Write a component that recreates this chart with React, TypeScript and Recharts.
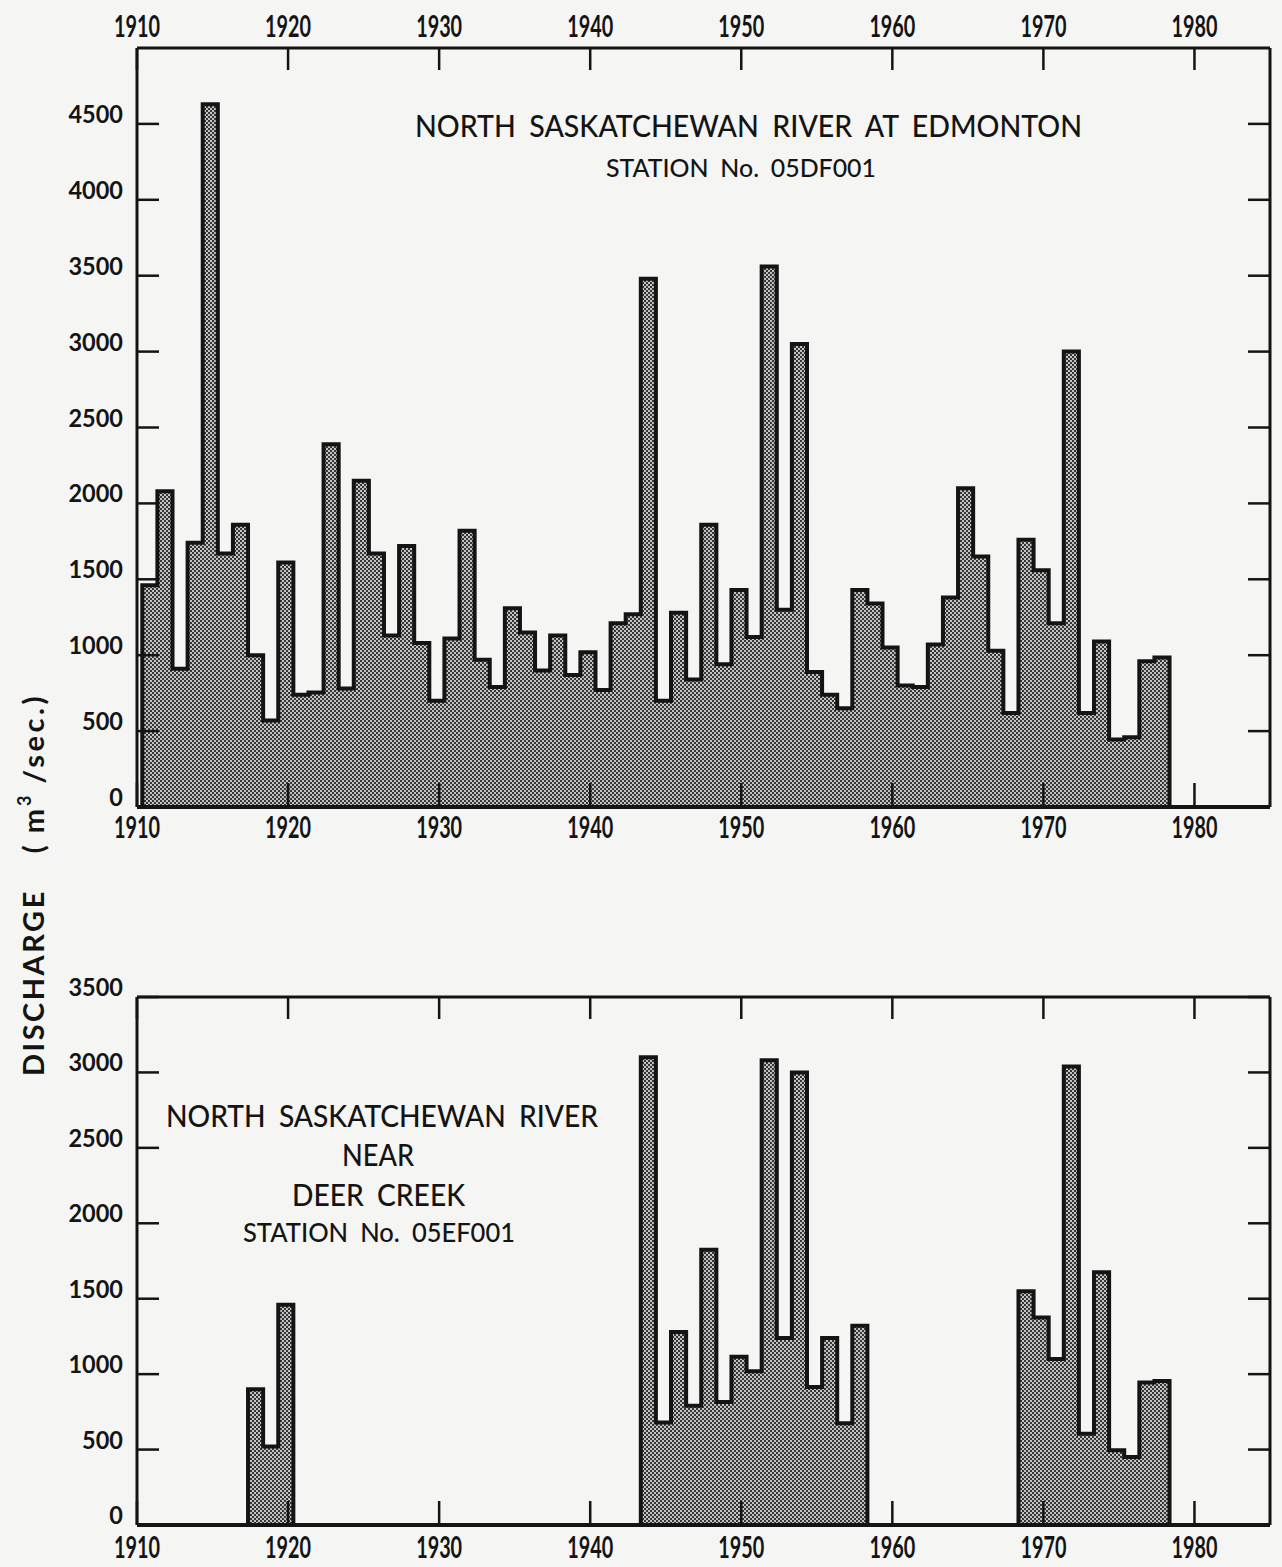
import { Area, AreaChart, XAxis, YAxis } from "recharts";

// Annual maximum discharge (m³/s), one value per year
const edmontonFirstYear = 1911;
const edmontonPeaks = [
  1460, 2080, 910, 1740, 4630, 1670, 1860, 1000, 570, 1610,
  740, 755, 2390, 780, 2150, 1670, 1130, 1720, 1080, 700,
  1110, 1820, 970, 790, 1310, 1150, 900, 1130, 870, 1020,
  770, 1210, 1270, 3480, 700, 1280, 840, 1860, 940, 1430,
  1120, 3560, 1300, 3050, 890, 740, 650, 1430, 1340, 1050,
  800, 790, 1070, 1380, 2100, 1650, 1030, 620, 1760, 1560,
  1210, 3000, 620, 1090, 445, 460, 960, 985,
];

// Deer Creek record has gaps, so it is kept as separate runs
const deerCreek1918 = [900, 520, 1460];
const deerCreek1944 = [3100, 680, 1280, 790, 1825, 815, 1115, 1020, 3080, 1240, 3000, 915, 1240, 675, 1320];
const deerCreek1969 = [1550, 1375, 1100, 3040, 605, 1675, 495, 450, 945, 955];

const decadeTicks = [1910, 1920, 1930, 1940, 1950, 1960, 1970, 1980];
const edmontonTicks = [0, 500, 1000, 1500, 2000, 2500, 3000, 3500, 4000, 4500];
const deerCreekTicks = [0, 500, 1000, 1500, 2000, 2500, 3000, 3500];

const INK = "#141414";
const FONT = "Lato, 'Open Sans', sans-serif";
const BAR_SHIFT = 0.65; // each year's bar sits slightly left of its tick

type Run = { start: number; peaks: number[] };

// turn runs of yearly peaks into points for a stepAfter area (closed down to 0 at both ends)
function stepRows(runs: Run[]) {
  const rows: { x: number; v: number }[] = [];
  runs.forEach(({ start, peaks }) => {
    const x0 = start - BAR_SHIFT;
    rows.push({ x: x0, v: 0 });
    peaks.forEach((p, i) => rows.push({ x: x0 + i, v: p }));
    const x1 = x0 + peaks.length;
    rows.push({ x: x1, v: peaks[peaks.length - 1] });
    rows.push({ x: x1, v: 0 });
  });
  return rows;
}

const edmontonRows = stepRows([{ start: edmontonFirstYear, peaks: edmontonPeaks }]);
const deerCreekRows = stepRows([
  { start: 1918, peaks: deerCreek1918 },
  { start: 1944, peaks: deerCreek1944 },
  { start: 1969, peaks: deerCreek1969 },
]);

const TICK_LEN = 22;

function TopTick({ x, y, payload, showLabel }: any) {
  const axisY = y + 10;
  return (
    <g>
      <line x1={x} x2={x} y1={axisY} y2={axisY + TICK_LEN} stroke={INK} strokeWidth={2.5} />
      {showLabel && (
        <text
          transform={`translate(${x} ${axisY - 11}) scale(0.66 1)`}
          textAnchor="middle"
          fontFamily={FONT}
          fontWeight={700}
          fontSize={30}
          fill={INK}
        >
          {payload.value}
        </text>
      )}
    </g>
  );
}

function BottomTick({ x, y, payload, labelDrop }: any) {
  const axisY = y - 10;
  return (
    <g>
      <line x1={x} x2={x} y1={axisY} y2={axisY - TICK_LEN - 2} stroke={INK} strokeWidth={2.5} />
      <text
        transform={`translate(${x} ${axisY + labelDrop}) scale(0.66 1)`}
        textAnchor="middle"
        fontFamily={FONT}
        fontWeight={700}
        fontSize={30}
        fill={INK}
      >
        {payload.value}
      </text>
    </g>
  );
}

function LeftTick({ x, y, payload }: any) {
  const axisX = x + 14;
  return (
    <g>
      <line x1={axisX} x2={axisX + TICK_LEN} y1={y} y2={y} stroke={INK} strokeWidth={2.5} />
      <text
        transform={`translate(${axisX - 14} ${y - 1}) scale(0.94 1)`}
        textAnchor="end"
        fontFamily={FONT}
        fontWeight={700}
        fontSize={25}
        fill={INK}
      >
        {payload.value}
      </text>
    </g>
  );
}

function RightTick({ x, y }: any) {
  const axisX = x - 10;
  return <line x1={axisX} x2={axisX - TICK_LEN} y1={y} y2={y} stroke={INK} strokeWidth={2.5} />;
}

type PanelProps = {
  rows: { x: number; v: number }[];
  yMax: number;
  yTicks: number[];
  top: number;
  height: number;
  marginTop: number;
  topLabels: boolean;
  labelDrop: number;
  fillId: string;
};

function Panel({ rows, yMax, yTicks, top, height, marginTop, topLabels, labelDrop, fillId }: PanelProps) {
  return (
    <div style={{ position: "absolute", left: 0, top, width: 1282, height }}>
      <AreaChart
        width={1282}
        height={height}
        data={rows}
        margin={{ top: marginTop, right: 0, bottom: 0, left: 77 }}
        style={{ overflow: "visible" }}
      >
        <defs>
          <pattern id={fillId} width={4} height={4} patternUnits="userSpaceOnUse">
            <rect width={4} height={4} fill="#c2c2c2" />
            <rect width={2} height={2} fill="#363636" />
            <rect x={2} y={2} width={2} height={2} fill="#363636" />
          </pattern>
        </defs>
        <XAxis
          xAxisId="top"
          orientation="top"
          type="number"
          dataKey="x"
          domain={[1910, 1985]}
          ticks={decadeTicks}
          allowDataOverflow
          height={30}
          tickSize={0}
          tickMargin={10}
          tickLine={false}
          axisLine={{ stroke: INK, strokeWidth: 3 }}
          tick={(p: any) => <TopTick {...p} showLabel={topLabels} />}
        />
        <XAxis
          xAxisId="bottom"
          orientation="bottom"
          type="number"
          dataKey="x"
          domain={[1910, 1985]}
          ticks={decadeTicks}
          allowDataOverflow
          height={40}
          tickSize={0}
          tickMargin={10}
          tickLine={false}
          axisLine={{ stroke: INK, strokeWidth: 4 }}
          tick={(p: any) => <BottomTick {...p} labelDrop={labelDrop} />}
        />
        <YAxis
          yAxisId="left"
          orientation="left"
          width={60}
          type="number"
          domain={[0, yMax]}
          ticks={yTicks}
          allowDataOverflow
          tickSize={0}
          tickMargin={14}
          tickLine={false}
          axisLine={{ stroke: INK, strokeWidth: 3 }}
          tick={(p: any) => <LeftTick {...p} />}
        />
        <YAxis
          yAxisId="right"
          orientation="right"
          width={12}
          type="number"
          domain={[0, yMax]}
          ticks={yTicks}
          allowDataOverflow
          tickSize={0}
          tickMargin={10}
          tickLine={false}
          axisLine={{ stroke: INK, strokeWidth: 3 }}
          tick={(p: any) => <RightTick {...p} />}
        />
        <Area
          xAxisId="bottom"
          yAxisId="left"
          type="stepAfter"
          dataKey="v"
          stroke={INK}
          strokeWidth={4}
          strokeLinejoin="miter"
          fill={`url(#${fillId})`}
          fillOpacity={1}
          dot={false}
          activeDot={false}
          isAnimationActive={false}
        />
      </AreaChart>
    </div>
  );
}

// station captions: wider word gaps, glyphs stretched to the measured line width
function Caption({ x, y, size, width, children }: any) {
  return (
    <text
      x={x}
      y={y}
      fontSize={size}
      fontWeight={500}
      wordSpacing={size * 0.22}
      textLength={width}
      lengthAdjust="spacingAndGlyphs"
    >
      {children}
    </text>
  );
}

export default function App() {
  return (
    <div
      style={{
        position: "absolute",
        left: 0,
        top: 0,
        width: 1282,
        height: 1567,
        background: "#f5f5f3",
        overflow: "hidden",
      }}
    >
      <Panel
        rows={edmontonRows}
        yMax={5000}
        yTicks={edmontonTicks}
        top={0}
        height={847}
        marginTop={18}
        topLabels
        labelDrop={31}
        fillId="dotsEdmonton"
      />
      <Panel
        rows={deerCreekRows}
        yMax={3500}
        yTicks={deerCreekTicks}
        top={960}
        height={605}
        marginTop={7}
        topLabels={false}
        labelDrop={33}
        fillId="dotsDeerCreek"
      />
      <svg
        width={1282}
        height={1567}
        style={{ position: "absolute", left: 0, top: 0, pointerEvents: "none" }}
        fontFamily={FONT}
        fill={INK}
      >
        <Caption x={415} y={137} size={31} width={667}>NORTH SASKATCHEWAN RIVER AT EDMONTON</Caption>
        <Caption x={606} y={177} size={24} width={270}>STATION No. 05DF001</Caption>

        <Caption x={166} y={1127} size={30} width={432}>NORTH SASKATCHEWAN RIVER</Caption>
        <Caption x={342} y={1166} size={30} width={72}>NEAR</Caption>
        <Caption x={292} y={1206} size={30} width={173}>DEER CREEK</Caption>
        <Caption x={243} y={1242} size={26} width={272}>STATION No. 05EF001</Caption>

        <text transform="translate(44 1076) rotate(-90)" fontSize={29} fontWeight={700}>
          <tspan letterSpacing={2.5}>DISCHARGE</tspan>
          <tspan dx={36}>(</tspan>
          <tspan dx={12}>m</tspan>
          <tspan dx={3} dy={-13} fontSize={18}>3</tspan>
          <tspan dx={12} dy={13} letterSpacing={3.5}>/sec.)</tspan>
        </text>
      </svg>
    </div>
  );
}
